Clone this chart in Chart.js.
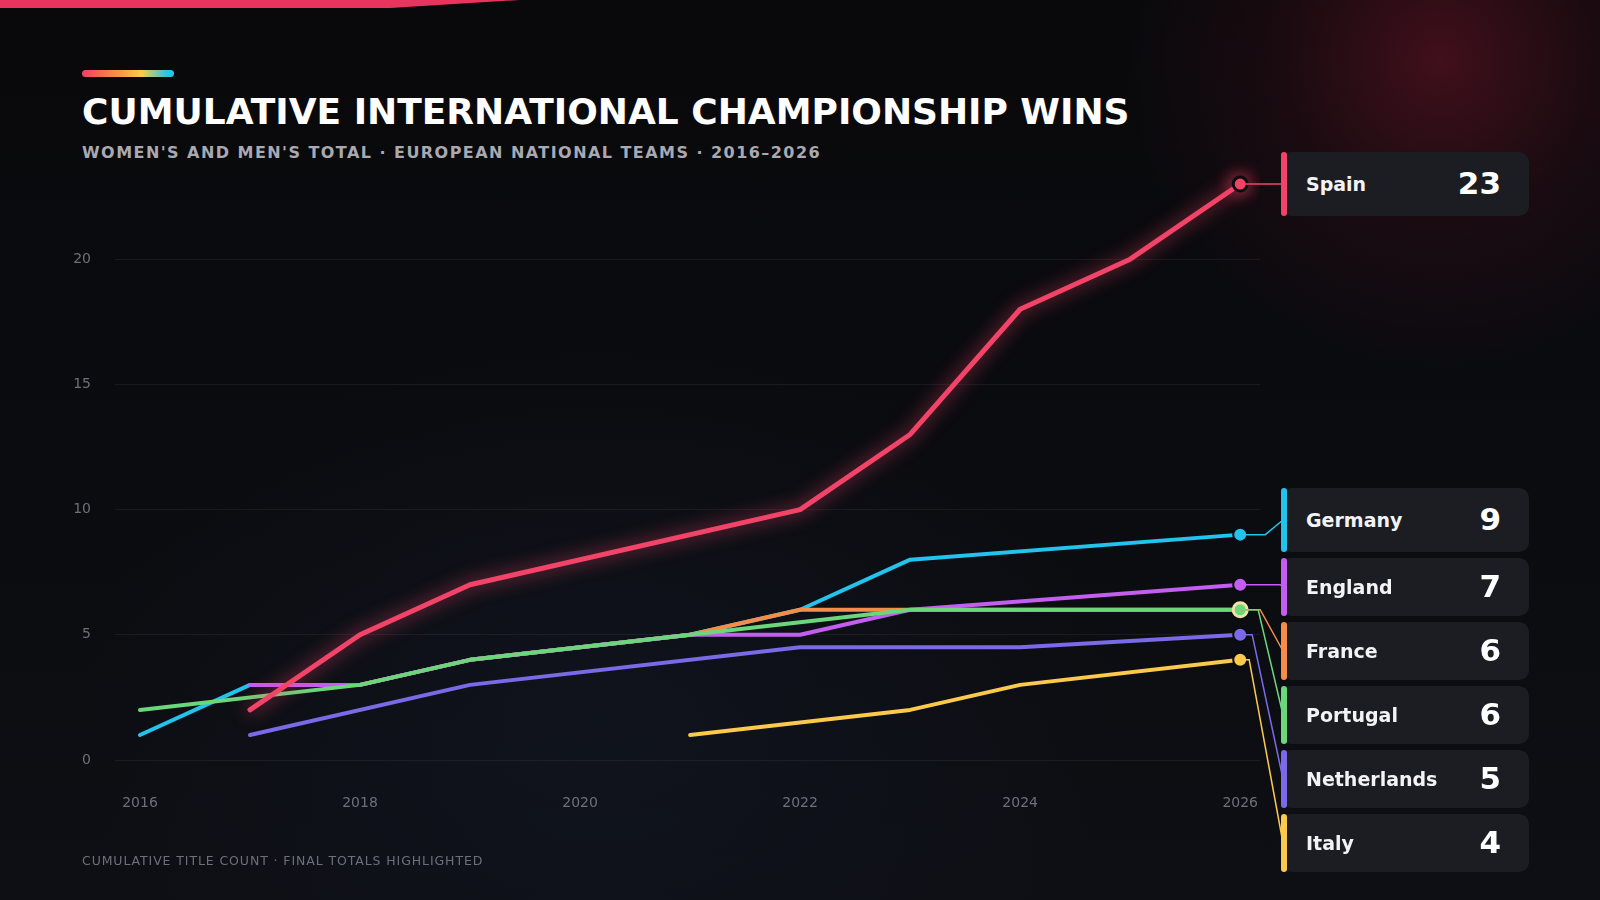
<!DOCTYPE html>
<html>
<head>
<meta charset="utf-8">
<title>Cumulative International Championship Wins</title>
<script src="https://cdn.jsdelivr.net/npm/chart.js@4.4.1/dist/chart.umd.min.js"></script>
<style>
  html, body {
    margin: 0;
    width: 1600px;
    height: 900px;
    overflow: hidden;
    font-family: 'DejaVu Sans', sans-serif;
  }
  body {
    position: relative;
    background:
      radial-gradient(circle at 1440px 60px, rgba(140, 24, 48, 0.42) 0, rgba(90, 16, 34, 0.2) 160px, rgba(0, 0, 0, 0) 310px),
      radial-gradient(ellipse at 600px 720px, rgba(22, 30, 48, 0.35) 0, rgba(0, 0, 0, 0) 520px),
      linear-gradient(180deg, #09090b 0%, #0b0c10 55%, #0d0f14 100%);
  }
  .topband {
    position: absolute; left: 0; top: 0; width: 520px; height: 8px;
    background: #ea3460;
    clip-path: polygon(0 0, 100% 0, 75% 100%, 0 100%);
  }
  .accent {
    position: absolute; left: 82px; top: 70px; width: 92px; height: 7px; border-radius: 4px;
    background: linear-gradient(90deg, #f23f64 0%, #f7963e 40%, #f7cf48 65%, #2ac4e6 92%);
  }
  h1 {
    position: absolute; left: 82px; top: 94px; margin: 0;
    font-size: 36px; line-height: 36px; font-weight: bold; color: #ffffff;
    letter-spacing: 0; white-space: nowrap;
  }
  .sub {
    position: absolute; left: 82px; top: 143px; margin: 0;
    font-size: 16px; line-height: 20px; font-weight: bold; color: #a9a9b1;
    letter-spacing: 1.45px; white-space: nowrap;
  }
  .foot {
    position: absolute; left: 82px; top: 853px; margin: 0;
    font-size: 12.5px; line-height: 16px; color: #6d7079;
    letter-spacing: 0.9px; white-space: nowrap;
  }
  #wrap { position: absolute; left: 0; top: 0; width: 1600px; height: 900px; }
  .card {
    position: absolute; left: 1281px; width: 248px;
    background: #1b1d23; border-radius: 10px;
    color: #f3f3f5; box-sizing: border-box;
  }
  .card .bar {
    position: absolute; left: 0; top: 0; bottom: 0; width: 6px; border-radius: 3px;
  }
  .card .name {
    position: absolute; left: 25px; top: 50%; transform: translateY(-50%);
    font-size: 19px; font-weight: bold; letter-spacing: 0;
  }
  .card .val {
    position: absolute; right: 28px; top: 50%; transform: translateY(-52%);
    font-size: 31px; font-weight: bold; color: #ffffff;
  }
</style>
</head>
<body>
<div class="topband"></div>
<div class="accent"></div>
<h1>CUMULATIVE INTERNATIONAL CHAMPIONSHIP WINS</h1>
<div class="sub">WOMEN'S AND MEN'S TOTAL · EUROPEAN NATIONAL TEAMS · 2016–2026</div>
<div id="wrap"><canvas id="myChart"></canvas></div>
<div class="foot">CUMULATIVE TITLE COUNT · FINAL TOTALS HIGHLIGHTED</div>

<script>
// years on the x axis, one value per year (null = no recorded point, line spans it)
const years = [2016, 2017, 2018, 2019, 2020, 2021, 2022, 2023, 2024, 2025, 2026];
const xTicks = [2016, 2018, 2020, 2022, 2024, 2026];
const yTicks = [0, 5, 10, 15, 20];

const teams = ['Spain', 'Germany', 'England', 'France', 'Portugal', 'Netherlands', 'Italy'];
const spain       = [null, 2, 5, 7, null, null, 10, 13, 18, 20, 23];
const germany     = [1, 3, 3, 4, null, 5, 6, 8, null, null, 9];
const england     = [null, 3, 3, 4, null, 5, 5, 6, null, null, 7];
const france      = [null, null, 3, 4, null, 5, 6, null, null, null, 6];
const portugal    = [2, null, 3, 4, null, null, null, 6, null, null, 6];
const netherlands = [null, 1, null, 3, null, null, 4.5, null, 4.5, null, 5];
const italy       = [null, null, null, null, null, 1, null, 2, 3, null, 4];

const colors = ['#f24468', '#22c3ec', '#c45ef0', '#f68c4a', '#6cd67a', '#7a6ae8', '#fbc94c'];
// which line sits on top (0 = top)
const stacking = [0, 4, 2, 3, 1, 5, 6];

const allSeries = [spain, germany, england, france, portugal, netherlands, italy];

Chart.defaults.font.family = "'DejaVu Sans', sans-serif";

function lastIdx(arr) {
    for (let i = arr.length - 1; i >= 0; i--) {
        if (arr[i] !== null) return i;
    }
    return -1;
}

// cards on the right
const cards = teams.map((name, i) => {
    const el = document.createElement('div');
    el.className = 'card';
    const bar = document.createElement('span');
    bar.className = 'bar';
    bar.style.background = colors[i];
    const nm = document.createElement('span');
    nm.className = 'name';
    nm.textContent = name;
    const val = document.createElement('span');
    val.className = 'val';
    val.textContent = allSeries[i][lastIdx(allSeries[i])];
    el.appendChild(bar); el.appendChild(nm); el.appendChild(val);
    document.body.appendChild(el);
    return el;
});

const CARD_TALL = 64, CARD_SHORT = 58, CARD_GAP = 6, CARD_FLOOR = 872, CARD_LEFT = 1281;
const elbowGap = [12, 25, 40, 20, 18, 12, 9];

const glowPlugin = {
    id: 'glow',
    beforeDatasetDraw(chart, args) {
        if (args.index !== 0) return;
        const c = chart.ctx;
        c.save();
        c.shadowColor = 'rgba(242, 68, 104, 0.85)';
        c.shadowBlur = 18;
    },
    afterDatasetDraw(chart, args) {
        if (args.index === 0) chart.ctx.restore();
    }
};

const calloutPlugin = {
    id: 'callouts',
    afterDraw(chart) {
        const c = chart.ctx;
        const xs = chart.scales.x, ys = chart.scales.y;
        let items = teams.map((name, i) => {
            const li = lastIdx(allSeries[i]);
            const v = allSeries[i][li];
            return { i, v, dotX: xs.getPixelForValue(years[li]), want: ys.getPixelForValue(v) };
        });
        items.sort((a, b) => b.v - a.v);

        // push down to avoid overlaps
        let prev = null;
        items.forEach(it => {
            it.h = (prev && it.want - prev.want < CARD_TALL) ? CARD_SHORT : CARD_TALL;
            it.top = it.want - it.h / 2;
            if (prev) it.top = Math.max(it.top, prev.top + prev.h + CARD_GAP);
            prev = it;
        });
        // then pull back up above the floor
        for (let k = items.length - 1; k >= 0; k--) {
            const limit = k === items.length - 1 ? CARD_FLOOR : items[k + 1].top - CARD_GAP;
            if (items[k].top + items[k].h > limit) items[k].top = limit - items[k].h;
        }

        c.save();
        c.lineWidth = 1.5;
        items.forEach((it, rank) => {
            const cy = it.top + it.h / 2;
            const ex = it.dotX + elbowGap[rank];
            c.strokeStyle = colors[it.i];
            c.beginPath();
            c.moveTo(it.dotX, it.want);
            c.lineTo(ex, it.want);
            c.lineTo(CARD_LEFT + 2, cy);
            c.stroke();

            const el = cards[it.i];
            el.style.top = it.top + 'px';
            el.style.height = it.h + 'px';
        });
        c.restore();
    }
};

const datasets = teams.map((name, i) => ({
    label: name,
    data: allSeries[i],
    borderColor: colors[i],
    backgroundColor: colors[i],
    borderWidth: i === 0 ? 5 : 4,
    tension: 0,
    spanGaps: true,
    fill: false,
    order: stacking[i],
    borderCapStyle: 'round',
    borderJoinStyle: 'round',
    pointRadius: ctx => ctx.dataIndex === lastIdx(allSeries[i]) ? 7 : 0,
    pointBackgroundColor: colors[i],
    pointBorderColor: name === 'Portugal' ? '#f3e2a4' : '#0b0c10',
    pointBorderWidth: name === 'Portugal' ? 3 : (i === 0 ? 3 : 2),
    pointHoverRadius: 0
}));

const ctx = document.getElementById('myChart').getContext('2d');
const myChart = new Chart(ctx, {
    type: 'line',
    data: {
        labels: years,
        datasets: datasets
    },
    options: {
        responsive: true,
        maintainAspectRatio: false,
        animation: false,
        events: [],
        layout: {
            padding: {top: 159, right: 340, left: 0, bottom: 0}
        },
        plugins: {
            legend: {display: false},
            tooltip: {enabled: false}
        },
        scales: {
            x: {
                type: 'linear',
                min: 2015.773,
                max: 2026.18,
                afterBuildTicks: scale => { scale.ticks = xTicks.map(v => ({value: v})); },
                afterFit: scale => { scale.height = 140; },
                grid: {display: false, drawTicks: false},
                border: {display: false},
                ticks: {
                    color: '#6c7079',
                    font: {size: 14},
                    padding: 35,
                    maxRotation: 0,
                    callback: v => String(v)
                }
            },
            y: {
                min: 0,
                max: 24,
                afterBuildTicks: scale => { scale.ticks = yTicks.map(v => ({value: v})); },
                afterFit: scale => { scale.width = 115; },
                grid: {color: 'rgba(255, 255, 255, 0.06)', drawTicks: false},
                border: {display: false},
                ticks: {
                    color: '#6c7079',
                    font: {size: 14},
                    padding: 24
                }
            }
        }
    },
    plugins: [glowPlugin, calloutPlugin]
});
</script>
</body>
</html>
